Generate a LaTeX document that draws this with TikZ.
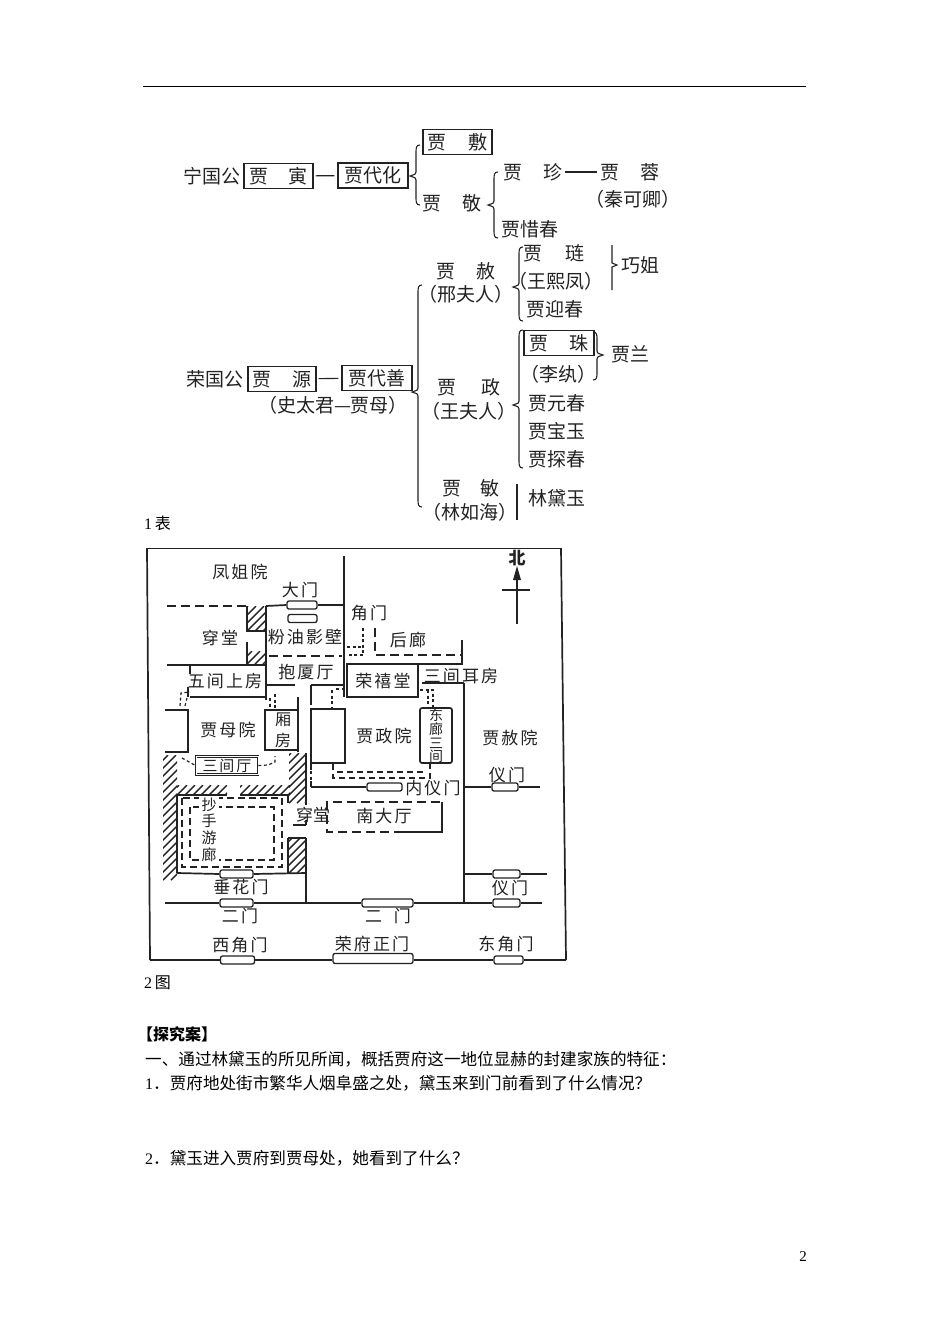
\documentclass[tikz,border=0pt]{standalone}
\usepackage{fontspec}
\setmainfont{Liberation Serif}
\newfontfamily\cjk{Noto Sans CJK SC}
\newfontfamily\cjkw[LetterSpace=12]{Noto Sans CJK SC}
\definecolor{ink}{HTML}{222222}
\newcommand{\brL}[4]{% x, top, tip, bottom : brace opening to the right
  \draw[treeline] (#1+4,#2) .. controls (#1,#2) and (#1,#2+3) .. (#1,#2+8) -- (#1,#3-4) .. controls (#1,#3-2) .. (#1-6,#3) .. controls (#1,#3+2) .. (#1,#3+4) -- (#1,#4-8) .. controls (#1,#4-3) and (#1,#4) .. (#1+4,#4);}
\newcommand{\brR}[4]{% x, top, tip, bottom : brace opening to the left
  \draw[treeline] (#1-4,#2) .. controls (#1,#2) and (#1,#2+3) .. (#1,#2+8) -- (#1,#3-4) .. controls (#1,#3-2) .. (#1+6,#3) .. controls (#1,#3+2) .. (#1,#3+4) -- (#1,#4-8) .. controls (#1,#4-3) and (#1,#4) .. (#1-4,#4);}
\newcommand{\hatchbox}[4]{%
  \begin{scope}\clip (#1,#2) rectangle (#3,#4);
  \foreach \k in {-120,-112,...,240} {\draw[ink,line width=1.4pt] (#1+\k,#4) -- (#1+\k+#4-#2,#2);}
  \end{scope}}
\tikzset{
  treeline/.style={ink,line width=1.1pt},
  wall/.style={ink,line width=1.7pt},
  thin wall/.style={ink,line width=1.2pt},
  dash wall/.style={ink,line width=1.3pt,dash pattern=on 9pt off 5pt},
  dot wall/.style={ink,line width=1.2pt,dash pattern=on 3pt off 2.5pt},
  lab/.style={font=\cjk\fontsize{19}{21}\selectfont,text=ink,inner sep=0pt},
  tbox/.style={draw=ink,line width=1.3pt,font=\cjk\fontsize{19}{21}\selectfont,text=ink,inner sep=0pt,minimum height=25pt},
  plan/.style={font=\cjkw\fontsize{17}{19}\selectfont,text=ink,inner sep=0pt},
  plan small/.style={font=\cjk\fontsize{14}{15}\selectfont,text=ink,inner sep=0pt},
  gate/.style={draw=ink,line width=1.3pt,fill=white,rounded corners=2pt,inner sep=0pt,minimum height=8pt},
  body/.style={font=\cjk\fontsize{16.6}{18}\selectfont,text=black,inner sep=0pt,anchor=west},
  link/.style={treeline,shorten <=2pt,shorten >=3pt},
}
\begin{document}
\begin{tikzpicture}[x=1pt,y=-1pt]
\useasboundingbox (0,0) rectangle (950,1344);
\coordinate (ruleL) at (143,86); \coordinate (ruleR) at (806,86);
\draw[black,line width=1pt] (ruleL) -- (ruleR);

% ---------- genealogy: Ningguo
\node[lab] (ng) at (212,176) {宁国公};
\node[tbox,minimum width=69pt] (yin) at (278.5,176) {贾\hspace{21pt}寅};
\node[tbox,minimum width=70pt] (daihua) at (373,175.5) {贾代化};
\draw[link] (yin) -- (daihua);
\node[tbox,minimum width=69pt] (she1) at (457.5,142) {贾\hspace{22pt}敷};
\node[lab] (jing) at (452,203) {贾\hspace{21pt}敬};
\brL{416}{145}{176}{205}
\node[lab] (zhen) at (533,172) {贾\hspace{21pt}珍};
\node[lab] (rong) at (630,172) {贾\hspace{21pt}蓉};
\draw[link] (zhen) -- (rong);
\node[lab] (qin) at (633,199) {（秦可卿）};
\node[lab] (xichun) at (530,229) {贾惜春};
\brL{494}{172}{205}{238}

% ---------- genealogy: Rongguo
\node[lab] (rg) at (215,379) {荣国公};
\node[tbox,minimum width=68pt] (yuan) at (282,379) {贾\hspace{21pt}源};
\node[tbox,minimum width=70pt] (daishan) at (377,378) {贾代善};
\draw[link] (yuan) -- (daishan);
\node[lab] (shi) at (333,405) {（史太君—贾母）};
\brL{418}{285}{392}{507}
\node[lab] (she2) at (466,271) {贾\hspace{21pt}赦};
\node[lab] (xing) at (466,294) {（邢夫人）};
\node[lab] (lian) at (554,253) {贾\hspace{23pt}琏};
\node[lab] (wang) at (556,281) {（王熙凤）};
\node[lab] (yingchun) at (555,309) {贾迎春};
\brL{519}{247}{287}{321}
\draw[treeline] (612,245) -- (612,263) -- (617,265) -- (612,267) -- (612,290);
\node[lab] (qiaojie) at (640,265) {巧姐};
\node[lab] (zheng) at (469,387) {贾\hspace{26pt}政};
\node[lab] (wangfu) at (469,411) {（王夫人）};
\node[tbox,minimum width=70pt] (zhu) at (559,343) {贾\hspace{22pt}珠};
\node[lab] (liwan) at (558,374) {（李纨）};
\node[lab] (yuanchun) at (557,403) {贾元春};
\node[lab] (baoyu) at (557,431) {贾宝玉};
\node[lab] (tanchun) at (557,459) {贾探春};
\brL{519}{330}{405}{468}
\brR{597}{332}{355}{380}
\node[lab] (lan) at (630,354) {贾兰};
\node[lab] (min) at (471,488) {贾\hspace{19pt}敏};
\node[lab] (linru) at (470,512) {（林如海）};
\draw[treeline] (517,484) -- (517,520);
\node[lab] (daiyu) at (557,498) {林黛玉};

\node[font=\fontsize{16}{18}\selectfont,inner sep=0pt,anchor=west] (cap1) at (144,523) {1\,{\cjk 表}};

% ---------- plan: outer wall
\coordinate (tl) at (147,548); \coordinate (tr) at (561,548);
\coordinate (bl) at (150,960); \coordinate (br) at (566,960);
\draw[wall] (tl) -- (bl);
\draw[thin wall,line width=.9pt] (tl) -- (tr);
\draw[wall] (tr) -- (br);

% gates
\node[gate,minimum width=30pt] (g1) at (302,605) {};
\node[gate,minimum width=29pt] (g2) at (302.5,618.5) {};
\node[gate,minimum width=35pt] (gnei) at (384.5,787) {};
\node[gate,minimum width=26pt] (gyi1) at (505,787) {};
\node[gate,minimum width=33pt] (gchui) at (236.5,874) {};
\node[gate,minimum width=27pt] (gyi2) at (506.5,874) {};
\node[gate,minimum width=33pt] (ger1) at (236.5,903) {};
\node[gate,minimum width=51pt] (ger2) at (387.5,903) {};
\node[gate,minimum width=27pt] (ger3) at (506.5,903) {};
\node[gate,minimum width=34pt] (gxi) at (237.5,960) {};
\node[gate,minimum width=80pt,minimum height=10pt] (gzheng) at (373,958.5) {};
\node[gate,minimum width=29pt] (gdong) at (508.5,960) {};

% outer south wall
\draw[wall] (bl) -- (gxi.west);
\draw[wall] (gxi.east) -- (gzheng.west |- gxi.east);
\draw[wall] (gzheng.east |- gdong.west) -- (gdong.west);
\draw[wall] (gdong.east) -- (br);

% north block
\draw[dash wall] (167,606) -- (246,606);
\hatchbox{247}{606}{265}{631}
\draw[thin wall] (247,606) -- (247,631) -- (265,631);
\hatchbox{247}{651}{265}{664}
\draw[thin wall] (247,642) -- (247,664);
\draw[wall] (266,606) -- (266,700);
\draw[wall] (266,606) -- (g1.west);
\draw[wall] (g1.east) -- (344,605);
\draw[wall] (344,556) -- (344,697);
\draw[dash wall] (269,656) -- (342,656);
\draw[wall] (167,665) -- (266,665);
\draw[thin wall] (190,665) -- (190,674);
\draw[wall] (190,697) -- (266,697);
\draw[wall] (188,697) -- (188,687);
\draw[wall] (266,685) -- (295,685);
\draw[wall] (311,685) -- (344,685);

% Jiamu yard
\draw[wall] (165,710) -- (188,710) -- (188,752) -- (165,752);
\draw[dot wall] (180,706) -- (181,693) -- (190,692);
\draw[dot wall] (185,706) -- (187,698);
\draw[dot wall] (275,694) -- (275,708);
\draw[dot wall] (270,698) -- (270,708);
\draw[wall] (265,710) rectangle (298,750);
\draw[wall] (298,697) -- (298,752);
\draw[wall] (311,685) -- (311,705);
\draw[wall] (311,709) rectangle (345,763);
\draw[wall] (311,763) -- (311,770);
\draw[dot wall] (311,771) -- (311,781);
\draw[wall] (311,781) -- (311,787);

% three-bay hall
\node[draw=ink,line width=.9pt,double,double distance=1pt,inner sep=0pt,minimum width=62pt,minimum height=18pt,font=\cjkw\fontsize{15}{16}\selectfont,text=ink] (sanjian) at (227,765.5) {三间厅};
\coordinate (dl) at (182,758); \coordinate (dr) at (275,756);
\draw[dot wall] (dl) -- (sanjian.west);
\draw[dot wall] (sanjian.east) -- (268,765) -- (275,762) -- (dr);

% west & surrounding hatching
\hatchbox{163}{755}{177}{880}
\hatchbox{177}{785}{227}{795}
\hatchbox{240}{785}{290}{795}
\hatchbox{289}{753}{305}{803}
\hatchbox{289}{838}{305}{873}
\draw[thin wall] (177,795) -- (227,795) (240,795) -- (288,795);
\draw[wall] (177,795) -- (177,873);
\draw[thin wall] (288,795) -- (288,803);
\draw[thin wall] (293,825) -- (306,825);
\draw[thin wall] (288,838) -- (306,838);
\draw[thin wall] (288,838) -- (288,873);
\draw[thin wall] (306,753) -- (306,805);
\draw[thin wall] (306,820) -- (306,825);

% covered walk
\draw[dash wall,line width=1.2pt,dash pattern=on 7pt off 4pt] (182,798) rectangle (282,867);
\draw[dash wall,line width=1.2pt,dash pattern=on 7pt off 4pt] (190,807) rectangle (274,860);
\fill[white] (199,796) rectangle (219,864);
\node[plan small,font=\cjk\fontsize{15}{16}\selectfont] (c1) at (209,805) {抄};
\node[plan small,font=\cjk\fontsize{15}{16}\selectfont] (c2) at (209,821) {手};
\node[plan small,font=\cjk\fontsize{15}{16}\selectfont] (c3) at (209,838) {游};
\node[plan small,font=\cjk\fontsize{15}{16}\selectfont] (c4) at (209,855) {廊};

% south of the walk
\draw[wall] (177,873) -- (gchui.west);
\draw[wall] (gchui.east) -- (306,873);
\draw[wall] (306,838) -- (306,903);
\draw[wall] (165,903) -- (ger1.west);
\draw[wall] (ger1.east) -- (ger2.west);
\draw[wall] (ger2.east) -- (ger3.west);
\draw[wall] (ger3.east) -- (542,903);

% inner gate line & central wall
\draw[wall] (311,787) -- (gnei.west);
\draw[wall] (464,683) -- (464,903);
\draw[wall] (464,787) -- (gyi1.west);
\draw[wall] (gyi1.east) -- (540,787);
\draw[wall] (464,874) -- (gyi2.west);
\draw[wall] (gyi2.east) -- (547,874);

% south hall
\draw[dash wall] (403,832) -- (327,832) -- (327,802) -- (442,802);
\draw[thin wall] (442,802) -- (442,832) -- (403,832);

% Rongxi hall and rear corridor
\draw[wall] (347,664) -- (418,664) -- (418,697) -- (347,697) -- cycle;
\draw[wall] (418,664) -- (462,664) -- (462,640);
\draw[wall] (422,683) -- (464,683);
\draw[dash wall] (375,628) -- (375,655) -- (462,655);
\draw[dot wall] (363,628) -- (363,655) -- (347,655);
\draw[dot wall] (347,647) -- (363,647);

% east corridor
\draw[wall,rounded corners=2pt] (420,708) rectangle (452,763);
\draw[dot wall] (420,690) -- (433,690) -- (433,708);
\draw[dot wall] (428,690) -- (428,706);
\draw[dot wall] (332,690) -- (332,707);
\draw[dot wall] (336,689) -- (345,689);
\draw[dash wall,dash pattern=on 6pt off 4pt] (337,772) -- (426,772);
\draw[dash wall,dash pattern=on 6pt off 4pt] (333,764) -- (333,778) -- (430,778) -- (430,764);

% labels
\node[plan] (fengjie) at (240,572) {凤姐院};
\node[plan] (damen) at (300,590) {大门};
\node[plan] (chuan1) at (220,638) {穿堂};
\node[plan] (fenyou) at (305,637) {粉油影壁};
\node[plan] (baosha) at (306,672) {抱厦厅};
\node[plan] (wujian) at (225,681) {五间上房};
\node[plan] (jiamu) at (228,730) {贾母院};
\node[plan,font=\cjk\fontsize{16}{17}\selectfont] (xiang1) at (283,720) {厢};
\node[plan,font=\cjk\fontsize{16}{17}\selectfont] (xiang2) at (283,740) {房};
\node[plan] (jiao) at (369,613) {角门};
\node[plan] (houlang) at (408,640) {后廊};
\node[plan] (rongxi) at (383,681) {荣禧堂};
\node[plan] (erfang) at (461,676) {三间耳房};
\node[plan small] (dong1) at (436,715) {东};
\node[plan small] (dong2) at (436,729) {廊};
\node[plan small] (dong3) at (436,743) {三};
\node[plan small] (dong4) at (436,756) {间};
\node[plan] (jiazheng) at (384,736) {贾政院};
\node[plan] (jiashe) at (510,738) {贾赦院};
\node[plan] (yi1) at (507,775) {仪门};
\node[plan] (neiyi) at (433,788) {内仪门};
\node[plan,font=\cjk\fontsize{17}{19}\selectfont] (chuan2) at (313,815) {穿堂};
\node[plan] (nanda) at (384,816) {南大厅};
\node[plan] (chuihua) at (241,887) {垂花门};
\node[plan] (yi2) at (510,888) {仪门};
\node[plan] (er1) at (240,916) {二门};
\node[plan] (er2) at (388,916) {二\hspace{12pt}门};
\node[plan] (xijiao) at (240,945) {西角门};
\node[plan] (zhengmen) at (372,944) {荣府正门};
\node[plan] (dongjiao) at (506,944) {东角门};
\node[plan,font=\cjk\bfseries\fontsize{17}{18}\selectfont] (bei) at (517,558) {北};
\coordinate (arrowS) at (517,624);
\draw[ink,line width=1.3pt] (arrowS) -- (517,575);
\fill[ink] (517,566) -- (521,580) -- (513,580) -- cycle;
\coordinate (crossW) at (502,590); \coordinate (crossE) at (530,590);
\draw[ink,line width=1.1pt] (crossW) -- (crossE);

% ---------- body text
\node[font=\fontsize{16}{18}\selectfont,inner sep=0pt,anchor=west] (cap2) at (144,983) {2\,{\cjk 图}};
\node[body,font=\cjk\bfseries\fontsize{16}{18}\selectfont] (tan) at (137,1034) {【探究案】};
\node[body] (l1) at (145,1059) {一、通过林黛玉的所见所闻，概括贾府这一地位显赫的封建家族的特征：};
\node[body] (l2) at (145,1083) {{\rmfamily\fontsize{16}{18}\selectfont 1}．贾府地处街市繁华人烟阜盛之处，黛玉来到门前看到了什么情况？};
\node[body] (l3) at (145,1158) {{\rmfamily\fontsize{16}{18}\selectfont 2}．黛玉进入贾府到贾母处，她看到了什么？};
\node[font=\fontsize{15}{18}\selectfont,inner sep=0pt] (pg) at (803,1257) {2};
\end{tikzpicture}
\end{document}
